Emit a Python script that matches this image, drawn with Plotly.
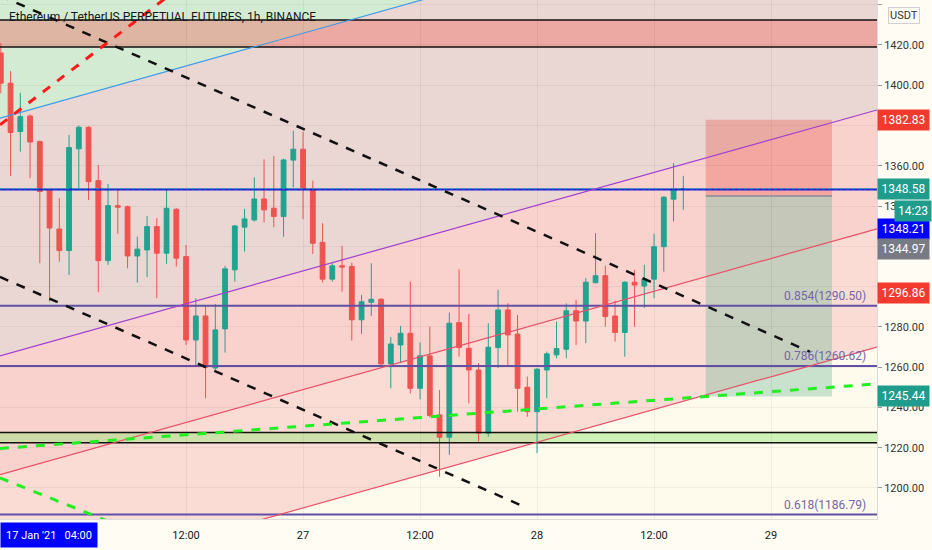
import pandas as pd
import plotly.graph_objects as go

# --- bougies 1h ETH/USDT ---
start = "2021-01-25 17:00"
opens = [1416, 1401, 1377, 1384.7, 1372, 1348, 1328.6, 1317.9, 1368.4, 1379.1,
         1352.6, 1312.9, 1340.2, 1339.7, 1315.2, 1318.2, 1329.8, 1316.6, 1338.4, 1314.9,
         1273.5, 1285.4, 1259.6, 1279, 1308.3, 1329.5, 1333.1, 1343.5, 1338.9, 1334.8,
         1362.8, 1368.2, 1348.5, 1322, 1303.7, 1310.3, 1310, 1283.5, 1292.2, 1293.7,
         1261.6, 1271, 1276.8, 1249.5, 1265.6, 1236.3, 1225.2, 1282.1, 1269.4, 1258.6,
         1227.2, 1269.7, 1288.4, 1276.4, 1250, 1237.9, 1258.6, 1266.1, 1268.9, 1288,
         1282.9, 1301.9, 1305.4, 1285.4, 1277.2, 1302.2, 1300.3, 1303.7, 1319.8, 1343.4,
         1348.2]
highs = [1421, 1407, 1396.3, 1385.5, 1372.5, 1348.5, 1343.9, 1375.3, 1380, 1379.6,
         1360.4, 1351, 1348.5, 1340.2, 1324.8, 1335.1, 1334, 1348, 1339, 1320.7,
         1294.2, 1290.9, 1291.4, 1310.3, 1330.6, 1338.6, 1354.3, 1363.2, 1364.9, 1363.5,
         1377.4, 1376.9, 1352.6, 1331.5, 1311.9, 1320.2, 1311.9, 1295.9, 1311.6, 1294.2,
         1274.9, 1280.5, 1302.5, 1272.2, 1280.1, 1248.7, 1287.1, 1308.6, 1286.4, 1262,
         1281.8, 1298.4, 1291.7, 1285.9, 1255.3, 1259.5, 1267.7, 1282.6, 1291.7, 1293.4,
         1304.2, 1326.5, 1310.3, 1293, 1302.6, 1308.3, 1310.8, 1326.2, 1344.9, 1361.3,
         1355]
lows = [1396, 1355, 1367, 1353.8, 1311.6, 1292.5, 1312.4, 1305.8, 1348, 1343,
        1297.2, 1310.8, 1326.2, 1309.1, 1302, 1304.7, 1294.2, 1311.3, 1310, 1271,
        1261, 1244.6, 1258.6, 1267.2, 1302.5, 1317.4, 1332.3, 1331.8, 1329.5, 1324.8,
        1349.3, 1333.5, 1316.2, 1302, 1302.5, 1297.5, 1273.2, 1276.5, 1285.4, 1260.3,
        1249.5, 1262, 1247, 1244, 1235.1, 1205.6, 1216.4, 1265.2, 1242, 1223,
        1225.5, 1259.5, 1260.3, 1237.9, 1235.4, 1217.3, 1244.6, 1264.4, 1264.4, 1271,
        1271.9, 1301.7, 1280.1, 1272.7, 1265.2, 1280.1, 1289.3, 1294.2, 1307.4, 1332.3,
        1338.1]
closes = [1401, 1376.5, 1384.4, 1371.8, 1347.2, 1329.1, 1317.9, 1369, 1379.1, 1352.1,
          1312.9, 1340.2, 1339.4, 1315.2, 1318.6, 1329.8, 1316.6, 1338.9, 1314.1, 1273.5,
          1285.4, 1260, 1278.5, 1308.8, 1330.1, 1333.6, 1343.5, 1338.1, 1334.8, 1362.9,
          1368.2, 1348.5, 1321.5, 1303.7, 1310.3, 1309.7, 1283.5, 1292.5, 1293.7, 1261.6,
          1271.5, 1276.8, 1249.5, 1265.6, 1236, 1225.2, 1281.8, 1269.7, 1258.6, 1227.2,
          1269.9, 1288.4, 1276, 1249.5, 1237.9, 1259, 1266.6, 1269.2, 1288, 1282.9,
          1302.2, 1305.4, 1285.1, 1277.2, 1302.2, 1300.8, 1303.8, 1319.8, 1344.4, 1348.5,
          1348.58]
times = pd.date_range(start, periods=len(opens), freq="h")

# --- dessins (ancrages temps / prix) ---
t_left, t_right = "2021-01-25 16:55", "2021-01-29 10:52"
channel_top = [1265.6, 1387.7]
channel_mid = [1206.6, 1328.7]
channel_low = [1147.9, 1270.0]
blue_trend = [1383.6, 1505.7]
black_dash_a = (["2021-01-25 16:55", "2021-01-29 04:00"], [1444.5, 1267.6])
black_dash_b = (["2021-01-25 16:55", "2021-01-27 22:58"], [1304.8, 1190.1])
red_dash = (["2021-01-25 16:55", "2021-01-26 12:00"], [1380.3, 1451.0])
green_dash_a = ([t_left, t_right], [1219.6, 1251.7])
green_dash_b = (["2021-01-25 16:55", "2021-01-26 05:00"], [1205.0, 1181.6])
resist_zone = [1419.0, 1432.4]
support_zone = [1222.5, 1227.5]
fib_levels = [0.854, 0.786, 0.618]
fib_prices = [1290.50, 1260.62, 1186.79]
blue_level = 1348.21
last_price = 1348.58
pos_times = ["2021-01-28 17:18", "2021-01-29 06:15"]
pos_stop, pos_entry, pos_target = 1382.83, 1344.97, 1245.44
tick_times = ["2021-01-26 12:00", "2021-01-27 00:00", "2021-01-27 12:00",
              "2021-01-28 00:00", "2021-01-28 12:00", "2021-01-29 00:00"]
tick_text = ["12:00", "27", "12:00", "28", "12:00", "29"]
price_ticks = list(range(1200, 1441, 20))
hidden_ticks = [1380, 1320, 1300]  # masqués par les étiquettes de prix

TOP = 1460

fig = go.Figure()
shapes = []


def poly(xs, ys, color):
    # zone remplie sous les bougies (date: "_" à la place de l'espace)
    pts = [f"{x.replace(' ', '_')},{y}" for x, y in zip(xs, ys)]
    shapes.append(dict(type="path", xref="x", yref="y", layer="below", line=dict(width=0),
                       fillcolor=color, path="M " + " L ".join(pts) + " Z"))


def seg(xs, ys, color, width, dash="solid"):
    fig.add_trace(go.Scatter(x=xs, y=ys, mode="lines", line=dict(color=color, width=width, dash=dash),
                             hoverinfo="skip", showlegend=False))


# fonds colorés
poly([t_left, t_right, t_right, t_left], [channel_low[0], channel_low[1], TOP, TOP], "rgba(245,150,160,0.3)")
poly([t_left, t_right, t_right, t_left], [channel_mid[0], channel_mid[1], channel_top[1], channel_top[0]],
     "rgba(240,150,160,0.15)")
poly([t_left, t_right, t_right, t_left], [channel_top[0], channel_top[1], TOP, TOP], "rgba(190,200,205,0.28)")
poly([t_left, t_right, t_left], [blue_trend[0], blue_trend[1], blue_trend[1]], "rgba(205,240,210,0.8)")
poly([t_left, t_right, t_right, t_left], [resist_zone[0], resist_zone[0], resist_zone[1], resist_zone[1]],
     "rgba(240,100,90,0.4)")
poly([t_left, t_right, t_right, t_left], [support_zone[0], support_zone[0], support_zone[1], support_zone[1]],
     "rgba(150,230,120,0.45)")
# outil position courte
poly([pos_times[0], pos_times[1], pos_times[1], pos_times[0]], [pos_entry, pos_entry, pos_stop, pos_stop],
     "rgba(235,90,80,0.35)")
poly([pos_times[0], pos_times[1], pos_times[1], pos_times[0]], [pos_target, pos_target, pos_entry, pos_entry],
     "rgba(100,180,150,0.35)")

# bougies
fig.add_trace(go.Candlestick(
    x=times, open=opens, high=highs, low=lows, close=closes,
    increasing=dict(line=dict(color="#22a38f", width=1), fillcolor="#22a38f"),
    decreasing=dict(line=dict(color="#ef5350", width=1), fillcolor="#ef5350"),
    hoverinfo="skip", showlegend=False
))

seg(pos_times, [pos_entry, pos_entry], "#8a8d96", 1.5)

# lignes horizontales
for lvl in resist_zone + support_zone:
    seg([t_left, t_right], [lvl, lvl], "#111111", 1.5)
for p in fib_prices:
    seg([t_left, t_right], [p, p], "#6150a6", 2)
seg([t_left, t_right], [blue_level, blue_level], "#1c1cdc", 2)
seg([t_left, t_right], [last_price, last_price], "#26a69a", 1, "dot")

# canal + tendances
seg([t_left, t_right], channel_top, "#a040d0", 1.2)
seg([t_left, t_right], channel_mid, "#e8506a", 1.2)
seg([t_left, t_right], channel_low, "#e8506a", 1.2)
seg([t_left, t_right], blue_trend, "#3d9be9", 1.2)
seg(*black_dash_a, "#111111", 2.5, "dash")
seg(*black_dash_b, "#111111", 2.5, "dash")
seg(*red_dash, "#ff1a1a", 3, "dash")
seg(*green_dash_a, "#22ee22", 3, "dash")
seg(*green_dash_b, "#22ee22", 3, "dash")

PH = 519.0
ann = []
ann.append(dict(x=0.008, y=1 - 17 / PH, xref="paper", yref="paper", xanchor="left", yanchor="middle",
                text="Ethereum / TetherUS PERPETUAL FUTURES, 1h, BINANCE", showarrow=False,
                font=dict(family="Roboto", size=12, color="#131722")))
for lv, pr in zip(fib_levels, fib_prices):
    ann.append(dict(x=0.99, y=pr, xref="paper", yref="y", xanchor="right", yanchor="bottom", yshift=1,
                    text=f"{lv}({pr:.2f})", showarrow=False,
                    font=dict(family="Roboto", size=12, color="#7465aa")))

labels = [("1382.83", "#f23a2e", dict(yref="y", y=pos_stop)),
          (f"{last_price:.2f}", "#1f9c8c", dict(yref="y", y=last_price)),
          (f"{blue_level:.2f}", "#0000ff", dict(yref="paper", y=1 - 229 / PH)),
          (f"{pos_entry:.2f}", "#787b86", dict(yref="paper", y=1 - 249 / PH)),
          ("1296.86", "#f23a2e", dict(yref="y", y=1296.86)),
          (f"{pos_target:.2f}", "#1f9c8c", dict(yref="y", y=pos_target))]
for txt, col, pos in labels:
    ann.append(dict(x=1, xref="paper", xanchor="left", yanchor="middle", text=txt, showarrow=False,
                    bgcolor=col, width=49, height=18, font=dict(family="Roboto", size=12, color="white"), **pos))
ann.append(dict(x=1, xref="paper", xanchor="left", xshift=17, y=1 - 211 / PH, yref="paper", yanchor="middle",
                text="14:23", showarrow=False, bgcolor="#1f9c8c", width=34, height=18,
                font=dict(family="Roboto", size=12, color="white")))
ann.append(dict(x=1, xref="paper", xanchor="left", xshift=11, y=1 - 15 / PH, yref="paper", yanchor="middle",
                text="USDT", showarrow=False, bgcolor="#fffdf3", bordercolor="#d0d0d0", borderwidth=1,
                font=dict(family="Roboto", size=11, color="#333333")))
ann.append(dict(x=0, xref="paper", xanchor="left", y=-16 / PH, yref="paper", yanchor="middle",
                text="17 Jan '21   04:00", showarrow=False, bgcolor="#0000ff", width=94, height=22,
                font=dict(family="Roboto", size=11, color="white")))

fig.update_layout(
    width=932, height=550,
    margin=dict(l=0, r=55, t=0, b=31),
    paper_bgcolor="#fffdf3", plot_bgcolor="#fefbec",
    showlegend=False, hovermode=False,
    annotations=ann, shapes=shapes,
    xaxis=dict(type="date", range=[t_left, t_right], rangeslider=dict(visible=False),
               tickvals=tick_times, ticktext=tick_text, showgrid=True, gridcolor="rgba(0,0,0,0.05)",
               showline=True, linecolor="#dcdcdc", ticks="", zeroline=False, ticklabelstandoff=6,
               tickfont=dict(family="Roboto", size=11, color="#131722")),
    yaxis=dict(side="right", range=[1184.6, 1442.3], tickvals=price_ticks,
               ticktext=["" if v in hidden_ticks else f"{v:.2f}" for v in price_ticks],
               showgrid=True, gridcolor="rgba(0,0,0,0.05)",
               showline=True, linecolor="#dcdcdc", ticks="outside", ticklen=4, tickcolor="#9598a1",
               zeroline=False, tickfont=dict(family="Roboto", size=11, color="#333333")),
)

fig.write_html("out.html", config={"displayModeBar": False},
               post_script="document.body.style.margin='0';")
